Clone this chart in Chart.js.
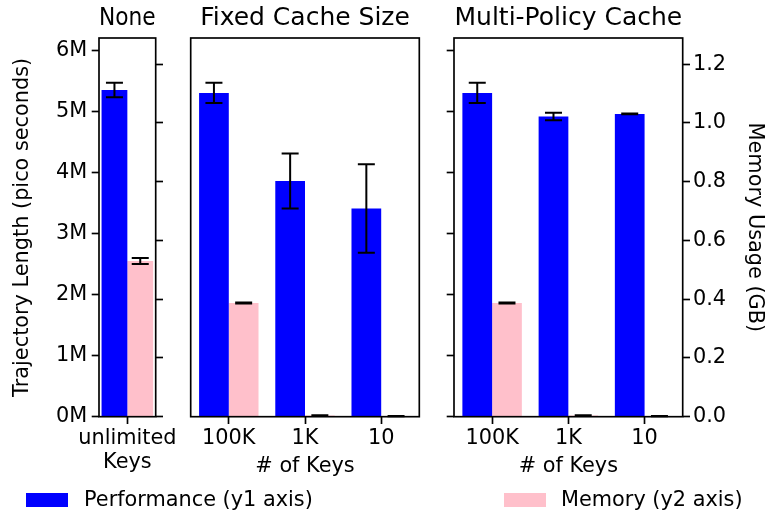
<!DOCTYPE html>
<html>
<head>
<meta charset="utf-8">
<script src="https://cdn.jsdelivr.net/npm/chart.js@4.4.0/dist/chart.umd.min.js"></script>
<style>
  body { margin: 0; background: #fff; }
  #wrap { position: relative; width: 767px; height: 516px; font-family: 'DejaVu Sans'; color: #000; }
  #wrap canvas { position: absolute; left: 0; top: 0; }
  .lg-box { position: absolute; top: 493px; width: 42px; height: 14px; }
  .lg-text { position: absolute; top: 489px; font-size: 20.83px; line-height: 20.83px; white-space: nowrap; }
</style>
</head>
<body>
<div id="wrap">
  <canvas id="none" width="767" height="480"></canvas>
  <canvas id="fixed" width="767" height="480"></canvas>
  <canvas id="multi" width="767" height="480"></canvas>
</div>
<script>
// series names (legend)
const seriesNames = ['Performance (y1 axis)', 'Memory (y2 axis)'];

// "None" panel
const noneKeys = ['unlimited'];
const noneTime = [5.35e6];
const noneTimeErr = [0.118e6];
const noneMem = [0.530];
const noneMemErr = [0.010];

// "Fixed Cache Size" panel
const cacheKeys = ['100K', '1K', '10'];
const fixedTime = [5.30e6, 3.86e6, 3.41e6];
const fixedTimeErr = [0.166e6, 0.45e6, 0.725e6];
const fixedMem = [0.387, 0.004, 0.002];
const fixedMemErr = [0.002, 0.001, 0.0005];

// "Multi-Policy Cache" panel
const multiTime = [5.30e6, 4.915e6, 4.957e6];
const multiTimeErr = [0.166e6, 0.06e6, 0.005e6];
const multiMem = [0.387, 0.004, 0.002];
const multiMemErr = [0.002, 0.001, 0.0005];

// tick values and labels
const timeTicks = [0, 1e6, 2e6, 3e6, 4e6, 5e6, 6e6];
const timeTickLabels = ['0M', '1M', '2M', '3M', '4M', '5M', '6M'];
const memTicks = [0, 0.2, 0.4, 0.6, 0.8, 1.0, 1.2];
const memTickLabels = ['0.0', '0.2', '0.4', '0.6', '0.8', '1.0', '1.2'];

const BLUE = '#0000ff';
const PINK = '#ffc0cb';
const FONT = 20.83;

Chart.defaults.font.family = "'DejaVu Sans'";
Chart.defaults.font.size = FONT;
Chart.defaults.color = '#000';

const errorBarsAndFrame = {
  id: 'errorBarsAndFrame',
  afterDatasetsDraw(chart) {
    const ctx = chart.ctx;
    ctx.save();
    ctx.strokeStyle = '#000';
    ctx.lineWidth = 2;
    chart.data.datasets.forEach((ds, i) => {
      const meta = chart.getDatasetMeta(i);
      const scale = chart.scales[ds.yAxisID];
      meta.data.forEach((bar, j) => {
        const v = ds.data[j];
        const e = ds.errors[j];
        const yTop = scale.getPixelForValue(v + e);
        const yBot = scale.getPixelForValue(v - e);
        const x = bar.x;
        ctx.beginPath();
        ctx.moveTo(x, yTop);
        ctx.lineTo(x, yBot);
        ctx.moveTo(x - 8.5, yTop);
        ctx.lineTo(x + 8.5, yTop);
        ctx.moveTo(x - 8.5, yBot);
        ctx.lineTo(x + 8.5, yBot);
        ctx.stroke();
      });
    });
    const a = chart.chartArea;
    ctx.lineWidth = 1.67;
    ctx.strokeRect(a.left, a.top, a.right - a.left, a.bottom - a.top);
    ctx.restore();
  }
};

function tickGrid() {
  return { display: true, drawOnChartArea: false, drawTicks: true, tickLength: 7.3, tickWidth: 1.67, tickColor: '#000', offset: false };
}

function makePanel(id, title, keys, time, timeErr, mem, memErr, opt) {
  const yScale = {
    type: 'linear',
    position: 'left',
    display: opt.leftWidth !== undefined,
    min: 0,
    max: 6.2e6,
    afterBuildTicks: (s) => { s.ticks = timeTicks.map(v => ({ value: v })); },
    afterFit: (s) => { if (opt.leftWidth !== undefined) s.width = opt.leftWidth; },
    ticks: { display: !!opt.leftLabels, padding: 4.5, callback: (v, i) => timeTickLabels[i] },
    grid: tickGrid(),
    border: { display: false },
    title: { display: !!opt.leftLabels, text: 'Trajectory Length (pico seconds)', padding: { top: 10.5, bottom: 0 } }
  };
  const y2Scale = {
    type: 'linear',
    position: 'right',
    display: opt.rightWidth !== undefined,
    min: 0,
    max: 1.289,
    afterBuildTicks: (s) => { s.ticks = memTicks.map(v => ({ value: v })); },
    afterFit: (s) => { if (opt.rightWidth !== undefined) s.width = opt.rightWidth; },
    ticks: { display: !!opt.rightLabels, padding: 3, callback: (v, i) => memTickLabels[i] },
    grid: tickGrid(),
    border: { display: false },
    title: { display: !!opt.rightLabels, text: 'Memory Usage (GB)', padding: { top: 0, bottom: 0 } }
  };

  return new Chart(document.getElementById(id), {
    type: 'bar',
    data: {
      labels: keys,
      datasets: [
        { label: seriesNames[0], data: time, errors: timeErr, yAxisID: 'y', backgroundColor: BLUE, borderWidth: 0 },
        { label: seriesNames[1], data: mem, errors: memErr, yAxisID: 'y2', backgroundColor: PINK, borderWidth: 0 }
      ]
    },
    options: {
      responsive: false,
      animation: false,
      layout: { padding: opt.padding || 0 },
      datasets: { bar: { categoryPercentage: opt.catPct, barPercentage: 1 } },
      plugins: {
        legend: { display: false },
        tooltip: { enabled: false },
        title: { display: true, text: title, fullSize: false, font: { size: 25, weight: 'normal' }, padding: { top: 3.7, bottom: 4.3 } }
      },
      scales: {
        x: {
          afterFit: (s) => { s.height = 63.3; },
          ticks: { padding: 2.3, maxRotation: 0 },
          grid: tickGrid(),
          border: { display: false },
          title: { display: true, text: opt.xTitle, padding: { top: 0, bottom: opt.xTitlePad } }
        },
        y: yScale,
        y2: y2Scale
      }
    },
    plugins: [errorBarsAndFrame]
  });
}

makePanel('none', 'None', noneKeys, noneTime, noneTimeErr, noneMem, noneMemErr, {
  leftWidth: 99, leftLabels: true, rightWidth: 611.3, rightLabels: false,
  catPct: 0.91, xTitle: 'Keys', xTitlePad: 4.7
});

makePanel('fixed', 'Fixed Cache Size', cacheKeys, fixedTime, fixedTimeErr, fixedMem, fixedMemErr, {
  padding: { left: 190.7, right: 347.7 },
  catPct: 0.78, xTitle: '# of Keys', xTitlePad: 1.4
});

makePanel('multi', 'Multi-Policy Cache', cacheKeys, multiTime, multiTimeErr, multiMem, multiMemErr, {
  leftWidth: 454, leftLabels: false, rightWidth: 84.3, rightLabels: true,
  catPct: 0.78, xTitle: '# of Keys', xTitlePad: 1.4
});

// legend
const wrap = document.getElementById('wrap');
const legendItems = [
  { name: seriesNames[0], color: BLUE, boxLeft: 26, textLeft: 84 },
  { name: seriesNames[1], color: PINK, boxLeft: 504, textLeft: 561 }
];
legendItems.forEach((it) => {
  const box = document.createElement('div');
  box.className = 'lg-box';
  box.style.left = it.boxLeft + 'px';
  box.style.background = it.color;
  wrap.appendChild(box);
  const txt = document.createElement('div');
  txt.className = 'lg-text';
  txt.style.left = it.textLeft + 'px';
  txt.textContent = it.name;
  wrap.appendChild(txt);
});
</script>
</body>
</html>
